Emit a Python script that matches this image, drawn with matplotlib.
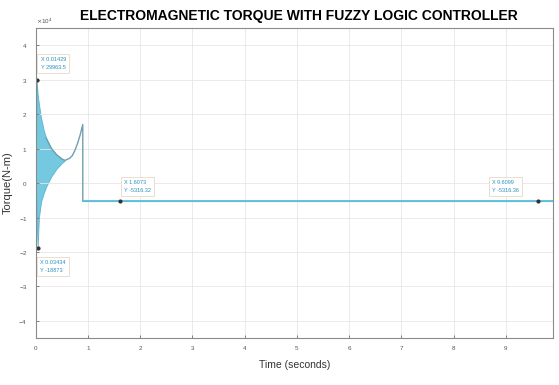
import numpy as np
import matplotlib.pyplot as plt
from matplotlib.ticker import ScalarFormatter

# envelope of the fast oscillation at start-up (N-m)
T_BAND = [0, 0.015, 0.035, 0.06, 0.1, 0.15, 0.2, 0.3, 0.4, 0.5, 0.56]
UPPER = [2000, 29963, 26000, 23000, 19000, 15500, 13000, 10000, 8200, 7000, 6600]
LOWER = [2000, -10000, -18873, -10000, -5500, -3000, -1000, 2000, 4200, 5800, 6600]

# torque after the oscillation dies out (N-m)
T_LINE = [0.2, 0.3, 0.4, 0.5, 0.56, 0.65, 0.7, 0.75, 0.8, 0.85, 0.9, 0.9, 9.9]
TORQUE = [13000, 10000, 8200, 7000, 6600, 7200, 8000, 9500, 11500, 14000, 17000, -5316, -5316]

# data tips
TIP_X = [0.01429, 0.03434, 1.6073, 9.6099]
TIP_Y = [29963.5, -18873.2, -5316.32, -5316.36]
TIP_TXT = ["X 0.01429\nY 29963.5", "X 0.03434\nY -18873", "X 1.6073\nY -5316.32", "X 9.6099\nY -5316.36"]
TIP_OFF = [(3, 8), (2, -17), (3, 7), (-33, 7)]

plt.rcParams['font.family'] = ['Liberation Sans', 'DejaVu Sans']

fig = plt.figure(figsize=(5.59, 3.85), dpi=100)
ax = fig.add_axes([0.064, 0.122, 0.925, 0.805])

line_col = '#5cc0dc'
ax.fill_between(T_BAND, LOWER, UPPER, color=line_col, alpha=0.85, linewidth=0.6, edgecolor='#4aaecb')
ax.plot(T_LINE, TORQUE, color='#6f9fb0', linewidth=1.0)
ax.plot(T_LINE[-2:], TORQUE[-2:], color=line_col, linewidth=1.3)

for x, y, txt, off in zip(TIP_X, TIP_Y, TIP_TXT, TIP_OFF):
    ax.plot(x, y, 'o', color='#333333', markersize=2)
    ax.annotate(txt, xy=(x, y), xytext=off, textcoords='offset points',
                fontsize=4, color='#2a8fc0', linespacing=1.7,
                bbox=dict(boxstyle='square,pad=0.6', fc='white', ec='#e8d8c8', lw=0.6))

ax.set_xlim(0, 9.9)
ax.set_ylim(-45000, 45000)
ax.set_xticks(np.arange(0, 10, 1))
ax.set_yticks(np.arange(-40000, 40001, 10000))
fmt = ScalarFormatter(useMathText=True)
fmt.set_powerlimits((0, 0))
ax.yaxis.set_major_formatter(fmt)
ax.yaxis.get_offset_text().set_fontsize(4.5)
ax.yaxis.get_offset_text().set_color('#555555')

ax.grid(True, color='#e6e6e6', linewidth=0.6)
ax.tick_params(direction='in', length=2, width=0.5, labelsize=4.5, colors='#555555', pad=6)
for s in ax.spines.values():
    s.set_color('#8a8a8a')
    s.set_linewidth(0.8)

ax.set_title('ELECTROMAGNETIC TORQUE WITH FUZZY LOGIC CONTROLLER', fontsize=10,
             fontweight='bold', pad=6, x=0.508)
ax.set_xlabel('Time (seconds)', fontsize=7.5, color='#333333', labelpad=6)
ax.set_ylabel('Torque(N-m)', fontsize=8, color='#333333', labelpad=4)

plt.savefig('out.png', dpi=100)
